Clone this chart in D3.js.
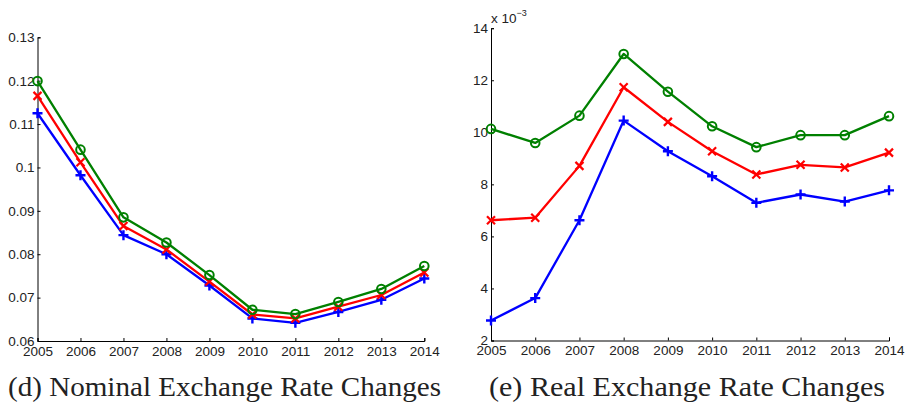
<!DOCTYPE html>
<html>
<head>
<meta charset="utf-8">
<script src="https://cdn.jsdelivr.net/npm/d3@7"></script>
<style>
  body { margin: 0; background: #fff; }
</style>
</head>
<body>
<div id="chart"></div>
<script>
// years on the x axis (both panels)
var years = [2005, 2006, 2007, 2008, 2009, 2010, 2011, 2012, 2013, 2014];

// (d) nominal exchange rate changes
var nomGreen = [0.1199, 0.1041, 0.0885, 0.0827, 0.0752, 0.0672, 0.0662, 0.0690, 0.0720, 0.0773];
var nomRed   = [0.1165, 0.1012, 0.0865, 0.0811, 0.0737, 0.0661, 0.0652, 0.0679, 0.0706, 0.0758];
var nomBlue  = [0.1125, 0.0982, 0.0844, 0.0800, 0.0728, 0.0652, 0.0642, 0.0667, 0.0695, 0.0744];
var nomTicks = [0.06, 0.07, 0.08, 0.09, 0.1, 0.11, 0.12, 0.13];

// (e) real exchange rate changes, in units of 10^-3
var realGreen = [10.13, 9.59, 10.64, 13.01, 11.56, 10.23, 9.43, 9.89, 9.89, 10.62];
var realRed   = [6.62, 6.72, 8.71, 11.73, 10.40, 9.27, 8.38, 8.75, 8.65, 9.22];
var realBlue  = [2.77, 3.63, 6.62, 10.45, 9.27, 8.31, 7.29, 7.61, 7.34, 7.77];
var realTicks = [2, 4, 6, 8, 10, 12, 14];

var captions = ["(d) Nominal Exchange Rate Changes", "(e) Real Exchange Rate Changes"];

var sans = "'Liberation Sans', Helvetica, Arial, sans-serif";
var serif = "'Liberation Serif', 'DejaVu Serif', serif";

var W = 907, H = 408;
var svg = d3.select("#chart").append("svg")
  .attr("width", W).attr("height", H);

// draw one panel
function panel(opts) {
  var x = d3.scaleLinear().domain([2005, 2014]).range([opts.x0, opts.x1]);
  var y = d3.scaleLinear().domain(opts.domain).range([opts.y0, opts.y1]);
  var g = svg.append("g");

  // y axis, ticks pointing inward
  g.append("g")
    .attr("transform", "translate(" + opts.x0 + ",0)")
    .call(d3.axisRight(y).tickValues(opts.ticks).tickSize(3).tickFormat(opts.fmt))
    .call(function(a) {
      a.select(".domain").attr("stroke", "#000").attr("stroke-width", 1);
      a.selectAll(".tick line").attr("stroke", "#000");
      a.selectAll(".tick text").attr("x", -3).attr("text-anchor", "end")
        .attr("fill", "#222")
        .style("font-size", "13.5px").style("font-family", sans);
    });

  // x axis, ticks pointing up
  g.append("g")
    .attr("transform", "translate(0," + opts.y0 + ")")
    .call(d3.axisTop(x).tickValues(years).tickSize(3).tickFormat(d3.format("d")))
    .call(function(a) {
      a.select(".domain").attr("stroke", "#000").attr("stroke-width", 1);
      a.selectAll(".tick line").attr("stroke", "#000");
      a.selectAll(".tick text").attr("y", 14.8).attr("dy", null)
        .attr("fill", "#222")
        .style("font-size", "13.5px").style("font-family", sans);
    });

  var line = d3.line()
    .x(function(d, i) { return x(years[i]); })
    .y(function(d) { return y(d); });

  opts.series.forEach(function(s) {
    g.append("path")
      .datum(s.values)
      .attr("fill", "none")
      .attr("stroke", s.color)
      .attr("stroke-width", 2.3)
      .attr("stroke-linejoin", "round")
      .attr("d", line);

    var m = g.selectAll(null)
      .data(s.values)
      .enter().append("g")
      .attr("transform", function(d, i) { return "translate(" + x(years[i]) + "," + y(d) + ")"; });

    if (s.marker == "o") {
      m.append("circle").attr("r", 4.3)
        .attr("fill", "none").attr("stroke", s.color).attr("stroke-width", 2);
    } else if (s.marker == "x") {
      m.append("path").attr("d", "M-4,-4L4,4M-4,4L4,-4")
        .attr("stroke", s.color).attr("stroke-width", 2.2);
    } else {
      m.append("path").attr("d", "M-5,0L5,0M0,-5L0,5")
        .attr("stroke", s.color).attr("stroke-width", 2.4);
    }
  });

  svg.append("text")
    .attr("x", opts.capX)
    .attr("y", 396)
    .attr("textLength", opts.capW)
    .attr("lengthAdjust", "spacingAndGlyphs")
    .attr("fill", "#222")
    .style("font-family", serif)
    .style("font-size", "27px")
    .text(opts.caption);

  return { x: x, y: y };
}

panel({
  x0: 37.5, x1: 424.3, y0: 341, y1: 37.3,
  domain: [0.06, 0.13], ticks: nomTicks,
  fmt: function(d) { return String(+d.toFixed(2)); },
  series: [
    { values: nomBlue, color: "#0000ff", marker: "+" },
    { values: nomRed, color: "#ff0000", marker: "x" },
    { values: nomGreen, color: "#008000", marker: "o" }
  ],
  caption: captions[0], capX: 8, capW: 433
});

panel({
  x0: 491, x1: 889, y0: 340.5, y1: 28.2,
  domain: [2, 14], ticks: realTicks,
  fmt: d3.format("d"),
  series: [
    { values: realBlue, color: "#0000ff", marker: "+" },
    { values: realRed, color: "#ff0000", marker: "x" },
    { values: realGreen, color: "#008000", marker: "o" }
  ],
  caption: captions[1], capX: 489, capW: 396
});

// exponent label for the right panel
var expo = svg.append("text")
  .attr("x", 491).attr("y", 23)
  .attr("fill", "#222")
  .style("font-size", "13.5px").style("font-family", sans);
expo.append("tspan").text("x 10");
expo.append("tspan").style("font-size", "9px").attr("dy", -7).text("\u22123");
</script>
</body>
</html>
